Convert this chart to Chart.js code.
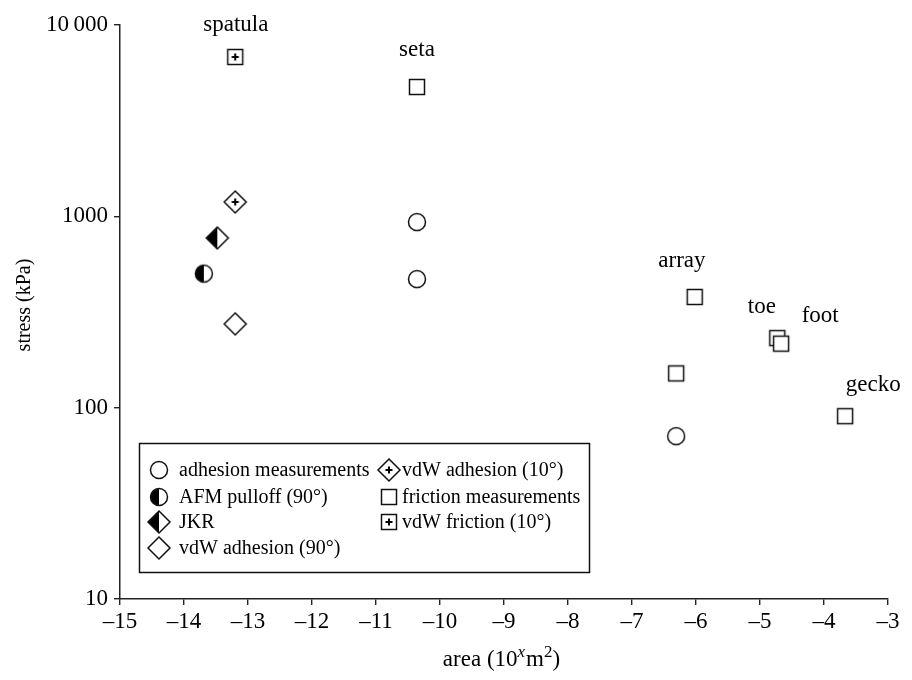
<!DOCTYPE html>
<html><head><meta charset="utf-8">
<script src="https://cdn.jsdelivr.net/npm/chart.js@4/dist/chart.umd.min.js"></script>
<style>html,body{margin:0;padding:0;background:#fff}</style>
</head><body>
<canvas id="c" width="912" height="680"></canvas>
<script>
// ---- data ----
const xTickValues = [-15,-14,-13,-12,-11,-10,-9,-8,-7,-6,-5,-4,-3];
const yTickValues = [10, 100, 1000, 10000];
const yTickLabels = ['10', '100', '1000', '10\u2009000'];

const adhesionX = [-10.36, -10.36, -6.31];
const adhesionY = [933, 470, 71];
const afmX = [-13.69];
const afmY = [502];
const jkrX = [-13.48];
const jkrY = [771];
const vdw90X = [-13.2];
const vdw90Y = [274];
const vdw10X = [-13.2];
const vdw10Y = [1189];
const frictionX = [-10.36, -6.02, -6.31, -4.73, -4.67, -3.67];
const frictionY = [4742, 379, 151, 231, 216, 90.3];
const vdwFricX = [-13.2];
const vdwFricY = [6808];

const labelTexts = ['spatula', 'seta', 'array', 'toe', 'foot', 'gecko'];
const labelX = [-13.19, -10.36, -6.22, -4.97, -4.06, -3.23];
const labelY = [10000, 7400, 584, 336, 301, 131];

const legendNames = ['adhesion measurements', 'AFM pulloff (90°)', 'JKR', 'vdW adhesion (90°)',
                     'vdW adhesion (10°)', 'friction measurements', 'vdW friction (10°)'];

// ---- marker images ----
function mk(size, draw) {
  const c = document.createElement('canvas');
  c.width = size; c.height = size;
  const g = c.getContext('2d');
  g.strokeStyle = '#111'; g.fillStyle = '#000'; g.lineWidth = 1.5;
  draw(g, size / 2);
  return c;
}
const R = 8.5, D = 11, S = 7.5;
const mCircle = mk(22, (g, m) => { g.fillStyle = '#fff'; g.beginPath(); g.arc(m, m, R, 0, Math.PI*2); g.fill(); g.stroke(); });
const mHalfCircle = mk(22, (g, m) => {
  g.fillStyle = '#fff'; g.beginPath(); g.arc(m, m, R, 0, Math.PI*2); g.fill();
  g.fillStyle = '#000'; g.beginPath(); g.arc(m, m, R, Math.PI/2, Math.PI*1.5); g.closePath(); g.fill();
  g.beginPath(); g.arc(m, m, R, 0, Math.PI*2); g.stroke();
});
function diamondPath(g, m) { g.beginPath(); g.moveTo(m, m-D); g.lineTo(m+D, m); g.lineTo(m, m+D); g.lineTo(m-D, m); g.closePath(); }
const mDiamond = mk(26, (g, m) => { g.fillStyle = '#fff'; diamondPath(g, m); g.fill(); g.stroke(); });
const mHalfDiamond = mk(26, (g, m) => {
  g.fillStyle = '#fff'; diamondPath(g, m); g.fill();
  g.fillStyle = '#000'; g.beginPath(); g.moveTo(m, m-D); g.lineTo(m, m+D); g.lineTo(m-D, m); g.closePath(); g.fill();
  diamondPath(g, m); g.stroke();
});
const mPlusDiamond = mk(26, (g, m) => {
  g.fillStyle = '#fff'; diamondPath(g, m); g.fill(); g.stroke();
  g.fillStyle = '#000'; g.fillRect(m-3.5, m-1, 7, 2); g.fillRect(m-1, m-3.5, 2, 7);
});
const mSquare = mk(20, (g, m) => { g.fillStyle = '#fff'; g.fillRect(m-S, m-S, 2*S, 2*S); g.strokeRect(m-S, m-S, 2*S, 2*S); });
const mPlusSquare = mk(20, (g, m) => {
  g.fillStyle = '#fff'; g.fillRect(m-S, m-S, 2*S, 2*S); g.strokeRect(m-S, m-S, 2*S, 2*S);
  g.fillStyle = '#000'; g.fillRect(m-3.5, m-1, 7, 2); g.fillRect(m-1, m-3.5, 2, 7);
});
const legendMarkers = [mCircle, mHalfCircle, mHalfDiamond, mDiamond, mPlusDiamond, mSquare, mPlusSquare];

const pts = (xs, ys) => xs.map((x, i) => ({x: x, y: ys[i]}));
function ds(label, xs, ys, img) {
  return { label, data: pts(xs, ys), pointStyle: img, pointRadius: 10, pointHoverRadius: 10,
           showLine: false, borderColor: '#000', backgroundColor: '#fff' };
}

const FONT = "'Liberation Serif', 'Times New Roman', serif";

const overlay = {
  id: 'overlay',
  afterDraw(chart) {
    const ctx = chart.ctx, xs = chart.scales.x, ys = chart.scales.y;
    ctx.save();
    ctx.fillStyle = '#000';
    // point annotations
    ctx.font = '23px ' + FONT; ctx.textAlign = 'center'; ctx.textBaseline = 'middle';
    labelTexts.forEach((t, i) => ctx.fillText(t, xs.getPixelForValue(labelX[i]), ys.getPixelForValue(labelY[i])));
    // y title
    ctx.save();
    ctx.translate(25, 305); ctx.rotate(-Math.PI/2);
    ctx.font = '20px ' + FONT; ctx.fillText('stress (kPa)', 0, 0);
    ctx.restore();
    // x title with superscripts
    const parts = [['area (10', '23px ' + FONT, 0], ['x', 'italic 17px ' + FONT, -9], ['m', '23px ' + FONT, 0], ['2', '17px ' + FONT, -9], [')', '23px ' + FONT, 0]];
    let tw = 0;
    parts.forEach(p => { ctx.font = p[1]; tw += ctx.measureText(p[0]).width; });
    let cx = 501 - tw / 2;
    ctx.textAlign = 'left'; ctx.textBaseline = 'alphabetic';
    parts.forEach(p => { ctx.font = p[1]; ctx.fillText(p[0], cx, 666 + p[2]); cx += ctx.measureText(p[0]).width + (p[0] === 'x' ? 1 : 0); });
    // legend box
    ctx.strokeStyle = '#111'; ctx.lineWidth = 1.5;
    ctx.fillStyle = '#fff';
    ctx.fillRect(139, 443, 451, 130);
    ctx.strokeRect(139.5, 443.5, 450, 129);
    ctx.fillStyle = '#000';
    ctx.font = '20px ' + FONT; ctx.textBaseline = 'middle';
    const rows = [470, 497, 522, 548];
    legendNames.forEach((n, i) => {
      const col = i < 4 ? 0 : 1, row = i < 4 ? i : i - 4;
      const mx = col === 0 ? 159 : 389, tx = col === 0 ? 179 : 402;
      const img = legendMarkers[i];
      ctx.drawImage(img, Math.round(mx - img.width/2), Math.round(rows[row] - img.height/2));
      ctx.fillText(n, tx, rows[row] + 1);
    });
    ctx.restore();
  }
};

new Chart(document.getElementById('c'), {
  type: 'scatter',
  data: { datasets: [
    ds(legendNames[6], vdwFricX, vdwFricY, mPlusSquare),
    ds(legendNames[4], vdw10X, vdw10Y, mPlusDiamond),
    ds(legendNames[2], jkrX, jkrY, mHalfDiamond),
    ds(legendNames[1], afmX, afmY, mHalfCircle),
    ds(legendNames[3], vdw90X, vdw90Y, mDiamond),
    ds(legendNames[0], adhesionX, adhesionY, mCircle),
    ds(legendNames[5], frictionX, frictionY, mSquare)
  ]},
  options: {
    responsive: false, animation: false,
    layout: { padding: { top: 25, right: 24, left: 0, bottom: 0 } },
    plugins: { legend: { display: false }, tooltip: { enabled: false } },
    scales: {
      x: {
        type: 'linear', min: -15, max: -3,
        afterBuildTicks: s => { s.ticks = xTickValues.map(v => ({value: v})); },
        afterFit: s => { s.height = 81; },
        grid: { display: true, drawOnChartArea: false, drawTicks: true, tickLength: 6, color: '#222', lineWidth: 1.4 },
        border: { display: true, color: '#222', width: 1.5 },
        ticks: { color: '#000', font: { family: FONT, size: 23 }, padding: 3, maxRotation: 0, autoSkip: false,
                 callback: v => (v < 0 ? '\u2013' + Math.abs(v) : String(v)) }
      },
      y: {
        type: 'logarithmic', min: 10, max: 10000,
        afterBuildTicks: s => { s.ticks = yTickValues.map(v => ({value: v})); },
        afterFit: s => { s.width = 120; },
        grid: { display: true, drawOnChartArea: false, drawTicks: true, tickLength: 6, color: '#222', lineWidth: 1.4 },
        border: { display: true, color: '#222', width: 1.5 },
        ticks: { color: '#000', font: { family: FONT, size: 23 }, padding: 6, autoSkip: false,
                 callback: (v) => { const i = yTickValues.indexOf(v); return i >= 0 ? yTickLabels[i] : ''; } }
      }
    }
  },
  plugins: [overlay]
});
</script>
</body></html>
